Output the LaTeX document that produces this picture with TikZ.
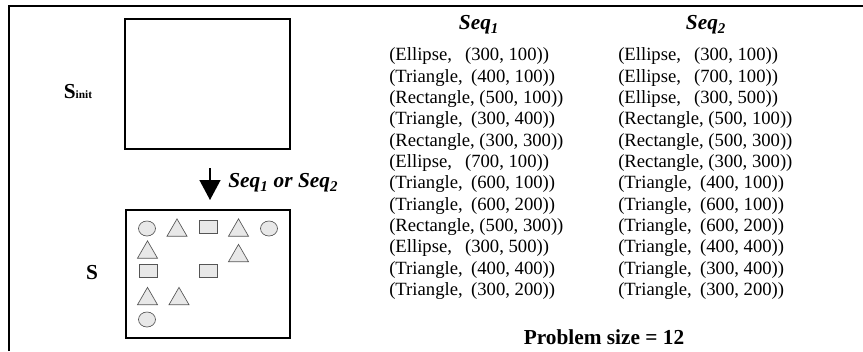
\documentclass[tikz,border=0pt]{standalone}
\usepackage{fontspec}
\setmainfont{Liberation Serif}
\usetikzlibrary{arrows.meta,shapes.geometric}
\definecolor{shapefill}{RGB}{232,232,232}
\definecolor{shapeline}{RGB}{85,85,85}
\newcommand{\gE}{\hspace{0.7em}}
\newcommand{\gT}{\hspace{0.45em}}
\begin{document}
\begin{tikzpicture}[x=0.75pt,y=-0.75pt,
  frameline/.style={line width=1.1pt},
  statebox/.style={draw,line width=1pt,inner sep=0pt},
  lbl/.style={font=\fontsize{16}{19}\selectfont\bfseries},
  hdr/.style={font=\fontsize{16}{19}\selectfont\bfseries\itshape},
  seqcol/.style={font=\fontsize{14}{16}\selectfont,inner sep=0pt,anchor=west},
  shp/.style={draw=shapeline,fill=shapefill,line width=0.5pt,inner sep=0pt},
  ell/.style={shp,ellipse,minimum width=12.75pt,minimum height=11.25pt},
  sq/.style={shp,rectangle,minimum width=13.5pt,minimum height=10pt},
  tri/.style={shp,regular polygon,regular polygon sides=3,minimum size=17.3pt},
  arr/.style={line width=1pt,-{Triangle[length=15pt,width=15.75pt]}}
]
\useasboundingbox (0,0) rectangle (863,351);
% outer frame (only top and left edges visible)
\draw[frameline] (9,351) -- (9,6) -- (863,6);

% state boxes
\node[statebox,minimum width=123.75pt,minimum height=97.5pt] (init) at (207.5,84) {};
\node[statebox,minimum width=123pt,minimum height=96pt] (final) at (208,274) {};
\node[lbl] (sinit) at (78,92) {S{\fontsize{8.5}{9}\selectfont init}};
\node[lbl] (slbl) at (92,273) {S};

% arrow
\coordinate (astart) at (210,168);
\coordinate (aend) at (210,200);
\draw[arr] (astart) -- (aend);
\node[hdr,anchor=west,inner sep=0pt] (arrlbl) at (228,183) {Seq\textsubscript{1} or Seq\textsubscript{2}};

% shapes in final state
\node[ell] (e31) at (147,228.5) {};
\node[tri] (t41) at (177,230.4) {};
\node[sq]  (r51) at (208,227) {};
\node[tri] (t61) at (238.5,230.4) {};
\node[ell] (e71) at (269,228.5) {};
\node[tri] (t32) at (147.5,252.4) {};
\node[tri] (t62) at (238.5,255.9) {};
\node[sq]  (r33) at (148,271) {};
\node[sq]  (r53) at (208,271) {};
\node[tri] (t34) at (147.5,298.9) {};
\node[tri] (t44) at (179,298.9) {};
\node[ell] (e35) at (147,319.5) {};

% headers
\node[hdr] (h1) at (479,25) {Seq\textsubscript{1}};
\node[hdr] (h2) at (706,25) {Seq\textsubscript{2}};

% sequences
\node[seqcol] (seq1) at (389,173.8) {\begin{tabular}{@{}l@{}}
(Ellipse,\gE(300, 100))\\
(Triangle,\gT(400, 100))\\
(Rectangle, (500, 100))\\
(Triangle,\gT(300, 400))\\
(Rectangle, (300, 300))\\
(Ellipse,\gE(700, 100))\\
(Triangle,\gT(600, 100))\\
(Triangle,\gT(600, 200))\\
(Rectangle, (500, 300))\\
(Ellipse,\gE(300, 500))\\
(Triangle,\gT(400, 400))\\
(Triangle,\gT(300, 200))
\end{tabular}};
\node[seqcol] (seq2) at (618,173.8) {\begin{tabular}{@{}l@{}}
(Ellipse,\gE(300, 100))\\
(Ellipse,\gE(700, 100))\\
(Ellipse,\gE(300, 500))\\
(Rectangle, (500, 100))\\
(Rectangle, (500, 300))\\
(Rectangle, (300, 300))\\
(Triangle,\gT(400, 100))\\
(Triangle,\gT(600, 100))\\
(Triangle,\gT(600, 200))\\
(Triangle,\gT(400, 400))\\
(Triangle,\gT(300, 400))\\
(Triangle,\gT(300, 200))
\end{tabular}};

\node[lbl] (psize) at (604,337) {Problem size = 12};
\end{tikzpicture}
\end{document}
